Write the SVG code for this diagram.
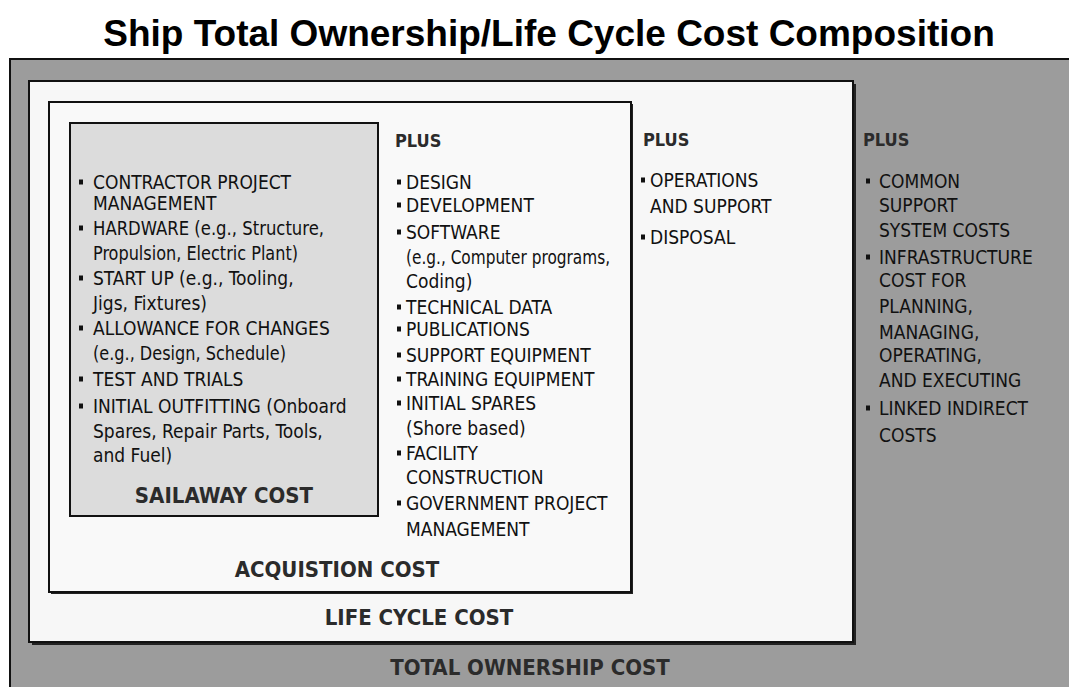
<svg xmlns="http://www.w3.org/2000/svg" width="1069" height="687" viewBox="0 0 1069 687">
<style>
.t{font-family:"DejaVu Sans Condensed","Liberation Sans Narrow","Liberation Sans",sans-serif;font-stretch:condensed;font-size:19px;fill:#111}
.h{font-family:"DejaVu Sans Condensed","Liberation Sans Narrow","Liberation Sans",sans-serif;font-stretch:condensed;font-weight:bold;font-size:22px;fill:#2b2b2b}
.p{font-family:"DejaVu Sans Condensed","Liberation Sans Narrow","Liberation Sans",sans-serif;font-stretch:condensed;font-weight:bold;font-size:18px;fill:#2b2b2b}
.title{font-family:"Liberation Sans",Arial,sans-serif;font-weight:bold;font-size:37px;fill:#000}
.box{stroke:#111;stroke-width:2}
</style>
<defs>
<rect id="b" x="0" y="-0.5" width="4" height="5" fill="#111"/>
</defs>
<rect x="0" y="0" width="1069" height="687" fill="#ffffff"/>
<text class="title" x="549" y="46" text-anchor="middle">Ship Total Ownership/Life Cycle Cost Composition</text>

<g id="total-ownership">
<rect x="10" y="59" width="1070" height="640" fill="#9c9c9c" class="box"/>
<text class="p" x="863" y="146">PLUS</text>
<g class="t">
<use href="#b" x="866" y="179"/><text x="879" y="188">COMMON</text>
<text x="879" y="212">SUPPORT</text>
<text x="879" y="237">SYSTEM COSTS</text>
<use href="#b" x="866" y="255"/><text x="879" y="264">INFRASTRUCTURE</text>
<text x="879" y="287">COST FOR</text>
<text x="879" y="313">PLANNING,</text>
<text x="879" y="339">MANAGING,</text>
<text x="879" y="362">OPERATING,</text>
<text x="879" y="387">AND EXECUTING</text>
<use href="#b" x="866" y="406"/><text x="879" y="415">LINKED INDIRECT</text>
<text x="879" y="442">COSTS</text>
</g>
<text class="h" x="530" y="675" text-anchor="middle">TOTAL OWNERSHIP COST</text>
</g>

<g id="life-cycle">
<rect x="32" y="84" width="824" height="561" fill="#222"/>
<rect x="29" y="81" width="824" height="561" fill="#f7f7f7" class="box"/>
<text class="p" x="643" y="146">PLUS</text>
<g class="t">
<use href="#b" x="641" y="178"/><text x="650" y="187">OPERATIONS</text>
<text x="650" y="213">AND SUPPORT</text>
<use href="#b" x="641" y="235"/><text x="650" y="244">DISPOSAL</text>
</g>
<text class="h" x="419" y="625" text-anchor="middle">LIFE CYCLE COST</text>
</g>

<g id="acquisition">
<rect x="51" y="104" width="582" height="490" fill="#222"/>
<rect x="49" y="102" width="582" height="490" fill="#f9f9f9" class="box"/>
<text class="p" x="395" y="147">PLUS</text>
<g class="t">
<use href="#b" x="397" y="180"/><text x="406" y="189">DESIGN</text>
<use href="#b" x="397" y="203"/><text x="406" y="212">DEVELOPMENT</text>
<use href="#b" x="397" y="230"/><text x="406" y="239">SOFTWARE</text>
<text x="406" y="264" textLength="204" lengthAdjust="spacingAndGlyphs">(e.g., Computer programs,</text>
<text x="406" y="288">Coding)</text>
<use href="#b" x="397" y="305"/><text x="406" y="314">TECHNICAL DATA</text>
<use href="#b" x="397" y="327"/><text x="406" y="336">PUBLICATIONS</text>
<use href="#b" x="397" y="353"/><text x="406" y="362">SUPPORT EQUIPMENT</text>
<use href="#b" x="397" y="377"/><text x="406" y="386">TRAINING EQUIPMENT</text>
<use href="#b" x="397" y="401"/><text x="406" y="410">INITIAL SPARES</text>
<text x="406" y="435">(Shore based)</text>
<use href="#b" x="397" y="451"/><text x="406" y="460">FACILITY</text>
<text x="406" y="484">CONSTRUCTION</text>
<use href="#b" x="397" y="501"/><text x="406" y="510">GOVERNMENT PROJECT</text>
<text x="406" y="536">MANAGEMENT</text>
</g>
<text class="h" x="337" y="577" text-anchor="middle">ACQUISTION COST</text>
</g>

<g id="sailaway">
<rect x="70" y="123" width="308" height="393" fill="#dcdcdc" class="box"/>
<g class="t">
<use href="#b" x="79" y="180"/><text x="93" y="189">CONTRACTOR PROJECT</text>
<text x="93" y="210">MANAGEMENT</text>
<use href="#b" x="79" y="226"/><text x="93" y="235" textLength="231" lengthAdjust="spacingAndGlyphs">HARDWARE (e.g., Structure,</text>
<text x="93" y="260" textLength="205" lengthAdjust="spacingAndGlyphs">Propulsion, Electric Plant)</text>
<use href="#b" x="79" y="276"/><text x="93" y="285">START UP (e.g., Tooling,</text>
<text x="93" y="310">Jigs, Fixtures)</text>
<use href="#b" x="79" y="326"/><text x="93" y="335">ALLOWANCE FOR CHANGES</text>
<text x="93" y="360" textLength="193" lengthAdjust="spacingAndGlyphs">(e.g., Design, Schedule)</text>
<use href="#b" x="79" y="377"/><text x="93" y="386">TEST AND TRIALS</text>
<use href="#b" x="79" y="404"/><text x="93" y="413">INITIAL OUTFITTING (Onboard</text>
<text x="93" y="438">Spares, Repair Parts, Tools,</text>
<text x="93" y="462">and Fuel)</text>
</g>
<text class="h" x="224" y="503" text-anchor="middle">SAILAWAY COST</text>
</g>
</svg>
